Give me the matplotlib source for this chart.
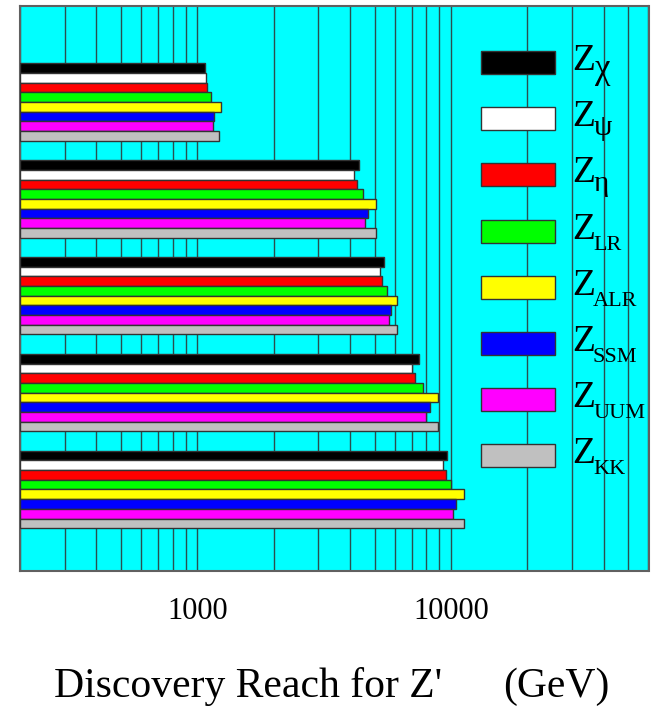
import numpy as np
import matplotlib
matplotlib.use('Agg')
import matplotlib.pyplot as plt
from matplotlib.patches import Rectangle
from matplotlib.ticker import FixedLocator, NullFormatter, LogLocator

plt.rcParams['font.family'] = ['Liberation Serif', 'DejaVu Serif']

W, H = 652, 711

# Z' models, top to bottom inside each group
subscripts = ['χ', 'ψ', 'η', 'LR', 'ALR', 'SSM', 'UUM', 'KK']
colors = ['#000000', '#FFFFFF', '#FF0000', '#00FF00',
          '#FFFF00', '#0000FF', '#FF00FF', '#C0C0C0']

# discovery reach in GeV, one list per group (top to bottom)
reach_1 = [1075, 1080, 1095, 1130, 1240, 1165, 1150, 1220]
reach_2 = [4350, 4140, 4250, 4490, 5070, 4725, 4585, 5070]
reach_3 = [5445, 5270, 5350, 5600, 6150, 5820, 5680, 6150]
reach_4 = [7500, 7040, 7215, 7730, 8855, 8240, 7945, 8855]
reach_5 = [9670, 9270, 9560, 10000, 11210, 10460, 10150, 11210]
groups = [reach_1, reach_2, reach_3, reach_4, reach_5]

tick_values = [1000, 10000]
tick_labels = ['1000', '10000']

XMIN, XMAX = 200, 60000


def px(x, y):
    # pixel position in the figure -> figure fraction
    return x / W, 1 - y / H


fig = plt.figure(figsize=(W / 100, H / 100), dpi=100)
ax = fig.add_axes([20 / W, 1 - 570.8 / H, 628.5 / W, 565.1 / H])
ax.set_facecolor('#00FFFF')
ax.set_xscale('log')
ax.set_xlim(XMIN, XMAX)
ax.set_ylim(52.4, -5.95)

for g, vals in enumerate(groups):
    for i, v in enumerate(vals):
        ax.barh(g * 10 + i + 0.5, v - XMIN, left=XMIN, height=1.0,
                color=colors[i], edgecolor='#333333', linewidth=1.0, zorder=3)

# vertical grid on every decade subdivision
ax.xaxis.set_major_locator(FixedLocator(tick_values))
ax.xaxis.set_minor_locator(LogLocator(base=10, subs=np.arange(1, 10)))
ax.xaxis.set_minor_formatter(NullFormatter())
ax.set_xticklabels(tick_labels)
ax.grid(True, which='both', axis='x', color='#2b4f4f', linewidth=1.0, zorder=1)
ax.set_axisbelow(True)
ax.tick_params(axis='x', which='both', length=0, pad=19, labelsize=22)
ax.set_yticks([])
for s in ax.spines.values():
    s.set_color('#606060')
    s.set_linewidth(1.5)

# legend swatches and labels
for k, (c, sub) in enumerate(zip(colors, subscripts)):
    yc = 62.5 + k * 56.2
    x0, y0 = px(481, yc + 11.5)
    fig.patches.append(Rectangle((x0, y0), 74 / W, 23 / H, transform=fig.transFigure,
                                 facecolor=c, edgecolor='#333333', linewidth=1.0,
                                 figure=fig, zorder=5))
    fig.text(*px(572, yc + 7.5), 'Z', fontsize=27, va='baseline', ha='left')
    if sub == 'χ':
        fig.text(*px(595, yc + 15.5), sub, fontsize=25, va='baseline', ha='left')
    elif sub in ('ψ', 'η'):
        fig.text(*px(594, yc + 16.5), sub, fontsize=21, va='baseline', ha='left')
    else:
        fig.text(*px(593, yc + 18.5), sub, fontsize=16, va='baseline', ha='left')

fig.text(*px(248, 697), "Discovery Reach for Z'", fontsize=30, va='baseline', ha='center')
fig.text(*px(556, 697), '(GeV)', fontsize=30, va='baseline', ha='center')

fig.savefig('out.png', dpi=100)
